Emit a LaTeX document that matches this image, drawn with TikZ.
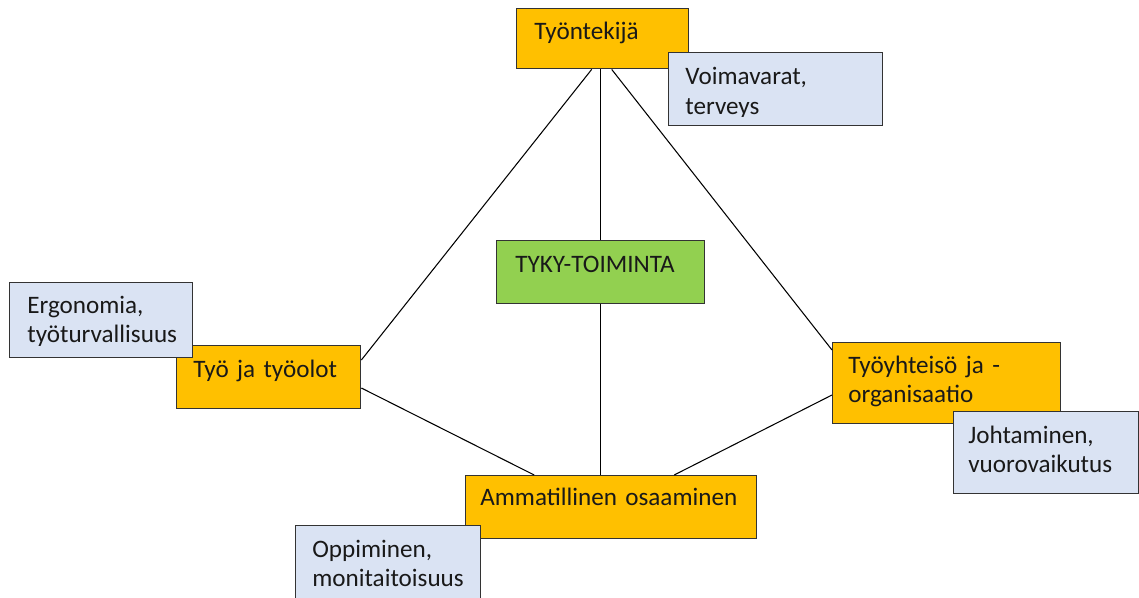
\documentclass[tikz,border=0pt]{standalone}
\usepackage{fontspec}
\setmainfont{Carlito}
\definecolor{tykyorange}{HTML}{FFC000}
\definecolor{tykyblue}{HTML}{DAE3F3}
\definecolor{tykygreen}{HTML}{92D050}
\DeclareRobustCommand\tykyfont{\fontsize{14.3}{16.8}\selectfont\spaceskip=2.6pt plus 1pt\relax}
\begin{document}
\begin{tikzpicture}[x=0.02cm, y=-0.02cm,
    box/.style={draw=black!80, line width=0.8pt, anchor=north west, inner sep=0pt},
    orangebox/.style={box, fill=tykyorange},
    bluebox/.style={box, fill=tykyblue},
    greenbox/.style={box, fill=tykygreen},
    txt/.style={anchor=base west, inner sep=0pt, text width=8cm,
        font=\tykyfont, text=black!90},
    link/.style={draw=black, line width=0.6pt}]
    % kuvan raja
    \clip (0,0) rectangle (1139,598);

    % oranssit laatikot
    \node[orangebox, minimum width=3.44cm, minimum height=1.2cm] (tyontekija) at (516,8) {};
    \node[orangebox, minimum width=3.68cm, minimum height=1.26cm] (tyo) at (176,345) {};
    \node[orangebox, minimum width=4.56cm, minimum height=1.62cm] (yhteiso) at (832,342) {};
    \node[orangebox, minimum width=5.82cm, minimum height=1.26cm] (ammatillinen) at (465,475) {};

    % keskella
    \node[greenbox, minimum width=4.16cm, minimum height=1.26cm] (tyky) at (496,240) {};

    % viivat
    \draw[link] ([shift={(-11,0)}]tyontekija.south) -- ([shift={(0,15)}]tyo.north east);
    \draw[link] (tyky.north |- tyontekija.south) -- (tyky.north);
    \draw[link] ([shift={(9,0)}]tyontekija.south) -- ([shift={(0,8)}]yhteiso.north west);
    \draw[link] (tyky.south) -- (tyky.south |- ammatillinen.north);
    \draw[link] ([shift={(0,43)}]tyo.north east) -- ([shift={(-77,0)}]ammatillinen.north);
    \draw[link] ([shift={(0,53)}]yhteiso.north west) -- ([shift={(63,0)}]ammatillinen.north);

    % tekstit
    \node[txt] (tyontekija-t) at ([shift={(18,32)}]tyontekija.north west) {Työntekijä};
    \node[txt] (tyo-t) at ([shift={(17,32)}]tyo.north west) {Työ ja työolot};
    \node[txt] (yhteiso-t) at ([shift={(16,31)}]yhteiso.north west) {Työyhteisö ja -\\organisaatio};
    \node[txt] (ammatillinen-t) at ([shift={(15,30)}]ammatillinen.north west) {Ammatillinen osaaminen};
    \node[txt] (tyky-t) at ([shift={(19,32)}]tyky.north west) {TYKY-TOIMINTA};

    % siniset laatikot
    \node[bluebox, minimum width=4.28cm, minimum height=1.46cm] (voimavarat) at (668,52) {};
    \node[bluebox, minimum width=3.66cm, minimum height=1.5cm] (ergonomia) at (9,282) {};
    \node[bluebox, minimum width=3.70cm, minimum height=1.64cm] (johtaminen) at (953,411) {};
    \node[bluebox, minimum width=3.70cm, minimum height=1.6cm] (oppiminen) at (295,525) {};

    \begin{scope}
        \clip (voimavarat.north west) rectangle ([yshift=0.2cm]voimavarat.south east);
        \node[txt] (voimavarat-t) at ([shift={(17,33)}]voimavarat.north west) {Voimavarat,\\terveys};
    \end{scope}
    \begin{scope}
        \clip (ergonomia.north west) rectangle ([yshift=0.26cm]ergonomia.south east);
        \node[txt] (ergonomia-t) at ([shift={(18,31)}]ergonomia.north west) {Ergonomia,\\työturvallisuus};
    \end{scope}
    \node[txt] (johtaminen-t) at ([shift={(15,32)}]johtaminen.north west) {Johtaminen,\\vuorovaikutus};
    \node[txt] (oppiminen-t) at ([shift={(17,32)}]oppiminen.north west) {Oppiminen,\\monitaitoisuus};
\end{tikzpicture}
\end{document}
